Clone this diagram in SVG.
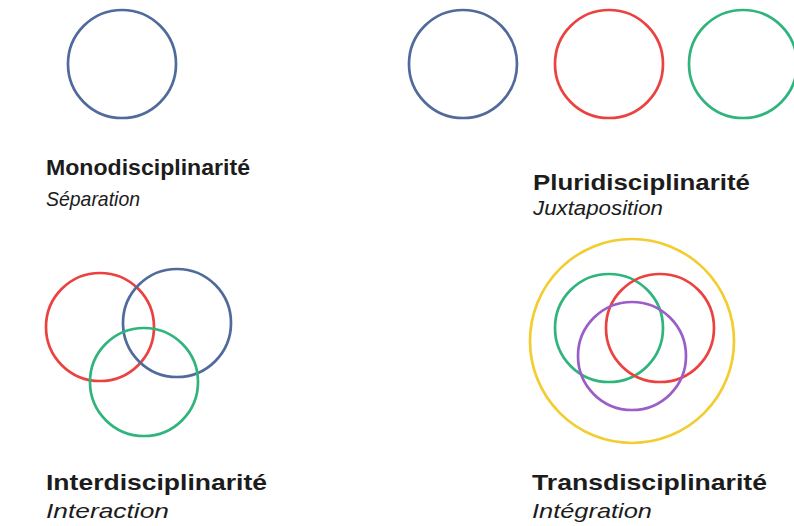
<svg xmlns="http://www.w3.org/2000/svg" width="794" height="526" viewBox="0 0 794 526">
<style>
.c{fill:none;stroke-width:2.7}
.blue{stroke:#4f6a9b}
.red{stroke:#eb4240}
.green{stroke:#2fb57c}
.yellow{stroke:#f3cd30}
.purple{stroke:#9b5ec8}
.t{font-family:"Liberation Sans",Arial,sans-serif;fill:#1c1c1c}
.b{font-weight:bold;font-size:22px}
.i{font-style:italic;font-size:21px}
</style>
<rect width="794" height="526" fill="#ffffff"/>
<g id="mono">
<circle class="c blue" cx="122" cy="64" r="54"/>
<text class="t b" x="46" y="175" textLength="204" lengthAdjust="spacingAndGlyphs">Monodisciplinarité</text>
<text class="t i" x="46" y="206" textLength="94" lengthAdjust="spacingAndGlyphs">Séparation</text>
</g>
<g id="pluri">
<circle class="c blue" cx="463" cy="64" r="54"/>
<circle class="c red" cx="609" cy="64" r="54"/>
<circle class="c green" cx="743" cy="64" r="54"/>
<text class="t b" x="533" y="190" textLength="217" lengthAdjust="spacingAndGlyphs">Pluridisciplinarité</text>
<text class="t i" x="533" y="215" textLength="130" lengthAdjust="spacingAndGlyphs">Juxtaposition</text>
</g>
<g id="inter">
<circle class="c red" cx="100" cy="327" r="54"/>
<circle class="c blue" cx="177" cy="323" r="54"/>
<circle class="c green" cx="144" cy="382" r="54"/>
<text class="t b" x="46" y="490" textLength="221" lengthAdjust="spacingAndGlyphs">Interdisciplinarité</text>
<text class="t i" x="46" y="518" textLength="123" lengthAdjust="spacingAndGlyphs">Interaction</text>
</g>
<g id="trans">
<circle class="c yellow" cx="632" cy="341" r="102"/>
<circle class="c green" cx="609" cy="328" r="54"/>
<circle class="c red" cx="660" cy="328" r="54"/>
<circle class="c purple" cx="632" cy="356" r="54"/>
<text class="t b" x="532" y="490" textLength="235" lengthAdjust="spacingAndGlyphs">Transdisciplinarité</text>
<text class="t i" x="532" y="518" textLength="120" lengthAdjust="spacingAndGlyphs">Intégration</text>
</g>
<g id="connectors"></g>
</svg>
